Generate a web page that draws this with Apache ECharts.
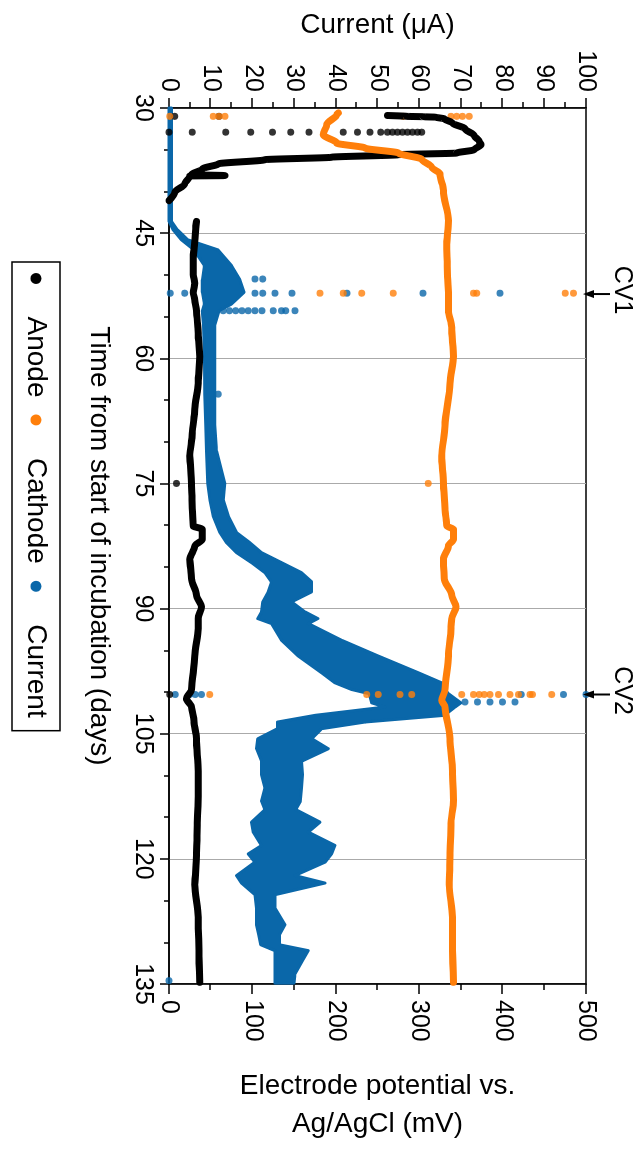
<!DOCTYPE html>
<html>
<head>
<meta charset="utf-8">
<script src="https://cdn.jsdelivr.net/npm/echarts@6/dist/echarts.min.js"></script>
<style>
  html, body { margin: 0; padding: 0; background: #fff; overflow: hidden; }
  /* chart is laid out landscape, then turned a quarter clockwise like the figure */
  #chart { position: absolute; left: 0; top: 0; width: 1151px; height: 638px;
           transform-origin: 0 0; transform: translateX(638px) rotate(90deg); }
</style>
</head>
<body>
<div id="chart"></div>
<script>
// anode potential (mV) against time (days); null where it falls below the axis
var anodeDays = [30.9, 31.0, 31.05, 31.1, 31.3, 31.8, 32.5, 33.3, 34.0, 34.4, 35.0, 35.4, 35.6, 35.9, 36.2,
                 36.7, 37.3, 38.0, 38.1, 38.15, 39.1, 40.1, 41.1, 41.5, 43.6, 44.5, 46, 48, 50, 51,
                 52.1, 53, 54.3, 57, 59.8, 63, 66.1, 69, 71.7, 75, 78, 80.1, 80.5, 81.7, 82.5,
                 84.1, 86.4, 88.4, 89.8, 91.2, 92.4, 95.7, 99.7, 100.8, 101.8, 103.5, 105.6, 109.5, 112.5, 116,
                 119.6, 123.1, 127, 131, 134.8];
var anodeMv = [262, 285, 305, 320, 330, 340, 355, 366, 372, 374, 366, 345, 275, 195, 115,
               59, 40, 27, 67, 25, 19, 7, 0, null, 33, 32, 31, 29, 29, 31,
               29, 31, 33, 35, 37, 35, 31, 28, 25, 27, 28, 29, 40, 40, 31,
               25, 27, 33, 39, 35, 35, 31, 27, 21, 27, 30, 33, 35, 35, 34,
               33, 31, 35, 36, 37];

// cathode potential (mV)
var cathodeDays = [30.6, 30.8, 32.0, 33.2, 34.2, 34.8, 35.4, 36.15, 37.1, 37.9, 39.9, 43.5, 46.6, 50.2, 52.1,
                   54.3, 56.3, 59.8, 63, 68.1, 71.7, 75, 78, 80.1, 80.5, 81.7, 82.5, 84.1, 86.4, 88.4,
                   89.8, 91.2, 92.4, 95.7, 99.7, 101, 101.8, 105.6, 109.5, 113, 116, 119.6, 123.1, 127, 131,
                   134.8];
var cathodeMv = [203, 201, 189, 185, 201, 235, 275, 303, 315, 325, 329, 335, 333, 334, 335,
                 335, 339, 341, 337, 331, 327, 329, 331, 333, 341, 341, 335, 329, 330, 339,
                 344, 339, 338, 335, 331, 327, 331, 337, 340, 341, 338, 337, 336, 340, 340,
                 341];

// current (uA): lower and upper edge of the noisy band
var currentDays = [30, 43.6, 44.6, 45.8, 47.0, 48.9, 50.6, 52.1, 53.5, 54.3, 56, 60, 64.3, 68, 71.1,
                   75.0, 77, 78.9, 80.9, 82.1, 83.3, 84.5, 85.7, 86.8, 88.0, 89.2, 90.4, 91.2, 91.8, 93.8,
                   95.7, 97.7, 98.9, 99.7, 100.2, 101.3, 101.8, 102.8, 103.6, 104.4, 105.6, 106.8, 108.3, 109.9, 111.5,
                   113.1, 114.1, 115.6, 116.8, 118.4, 119.4, 120.4, 122.0, 122.9, 124.3, 125.9, 127.9, 129.1, 130.3, 131.0,
                   132.2, 133.8, 134.9];
var currentLow = [0, 0, 1, 3, 6, 8.5, 8, 8, 8.5, 8, 8.3, 8.5, 8.6, 8.8, 9,
                  9.3, 9.8, 10.6, 12.2, 13.8, 16.2, 19.8, 23, 24.6, 23.8, 22.5, 22.2, 21.3, 24.6, 27,
                  31, 36.6, 39.8, 43.8, 48, 48.6, 51.8, 35, 26, 26, 21.3, 21, 22.2, 22.2, 23,
                  22.2, 23, 19.8, 20.2, 22.2, 19, 20.6, 16.2, 17.4, 20.6, 21, 21, 21.5, 22, 25.4,
                  25.4, 25.4, 25.4];
var currentHigh = [0.6, 0.6, 2, 4.5, 11.7, 15, 17, 18, 15, 12, 11, 11, 11, 11, 11.4,
                   13.4, 13, 14.2, 16.2, 19.4, 22.2, 27, 31.8, 34.2, 34.2, 29.4, 32.6, 35.7, 33.4, 41.4,
                   50.2, 59.8, 65.4, 66.2, 67, 70, 68.6, 66, 47, 36.6, 34.2, 38.2, 31.8, 32, 31.8,
                   31.5, 30.4, 36.2, 33.4, 39.8, 39, 37.4, 30.2, 37.4, 25.4, 25.4, 27.8, 26.5, 26.5, 33.4,
                   32, 30.2, 30];

// stray single readings
var anodeDotDays = [31.0, 31.0, 32.9, 32.9, 32.9, 32.9, 32.9, 32.9, 32.9, 32.9, 32.9, 32.9, 32.9,
                    32.9, 32.9, 32.9, 32.9, 32.9, 32.9, 32.9, 32.9, 75.0, 100.3];
var anodeDotMv = [7, 60, 0, 28, 68, 98, 124, 146, 168, 209, 226, 241, 254,
                  262, 268, 274, 280, 286, 292, 298, 303, 9, 1];
var cathodeDotDays = [31.0, 31.0, 31.0, 31.0, 31.0, 31.0, 31.0, 31.0, 31.0,
                      52.2, 52.2, 52.2, 52.2, 52.2, 52.2, 52.2, 52.2, 75.0,
                      100.3, 100.3, 100.3, 100.3, 100.3, 100.3, 100.3, 100.3, 100.3, 100.3, 100.3, 100.3,
                      100.3, 100.3, 100.3, 100.3];
var cathodeDotMv = [1, 53, 60, 67, 281, 338, 345, 352, 360,
                    181, 209, 231, 269, 365, 369, 475, 485, 311,
                    49, 237, 251, 277, 291, 351, 365, 372, 378, 385, 395, 409, 419, 433,
                    436, 459];
var currentDotDays = [50.5, 50.5, 52.2, 52.2, 52.2, 52.2, 52.2, 52.2, 52.2, 52.2, 52.2,
                      54.3, 54.3, 54.3, 54.3, 54.3, 54.3, 54.3, 54.3, 54.3, 54.3, 54.3, 64.3,
                      100.3, 100.3, 100.3, 100.3, 101.2, 101.2, 101.2, 101.2, 101.2, 100.3, 100.3, 100.3, 134.6];
var currentDotUa = [20.6, 22.5, 0.3, 3.8, 20.6, 22.5, 25.4, 29.5, 42.7, 60.9, 79.4,
                    13, 14.5, 16, 17.5, 19, 20.6, 22.3, 25, 27, 28, 30.2, 11.8,
                    1.5, 5, 6.3, 7.8, 71, 74, 77, 80, 83, 84.5, 94.6, 100, 0];

// cyclic voltammetry markers
var cvDays = [52.3, 100.3];
var cvLabels = ['CV1', 'CV2'];

var BLUE = '#0a67a9';
var ORANGE = '#ff7f0a';
var FONT = 'Liberation Sans, Arial, Helvetica, sans-serif';

function pairs(xs, ys) {
    return xs.map(function (x, i) { return [x, ys[i]]; });
}

var chart = echarts.init(document.getElementById('chart'));

var axisLine = { onZero: false, lineStyle: { color: '#000', width: 1.5 } };
var tickStyle = { color: '#000', width: 1.5 };

var option = {
    animation: false,
    textStyle: { fontFamily: FONT },
    grid: {
        left: 108, right: 156, top: 52, bottom: 169,
        show: true, borderColor: '#000', borderWidth: 1.5
    },
    legend: {
        left: 262, top: 578,
        padding: [10, 13, 10, 11],
        borderColor: '#000', borderWidth: 1.5,
        itemWidth: 66, itemHeight: 11, itemGap: 17,
        selectedMode: false,
        textStyle: { fontSize: 28, color: '#000', fontFamily: FONT },
        data: [
            { name: 'Anode', icon: 'circle' },
            { name: 'Cathode', icon: 'circle' },
            { name: 'Current', icon: 'circle' }
        ]
    },
    xAxis: {
        type: 'value', min: 30, max: 135, interval: 15, position: 'bottom',
        name: 'Time from start of incubation (days)',
        nameLocation: 'middle', nameGap: 56,
        nameTextStyle: { fontSize: 28, color: '#000' },
        axisLine: axisLine,
        axisTick: { length: 9, lineStyle: tickStyle },
        minorTick: { show: true, splitNumber: 3, length: 5, lineStyle: tickStyle },
        axisLabel: { fontSize: 25, color: '#000', margin: 14 },
        splitLine: { show: true, lineStyle: { color: '#aaa', width: 1 } }
    },
    yAxis: [{
        type: 'value', min: 0, max: 100, interval: 10, position: 'left',
        name: 'Current (μA)', nameLocation: 'middle', nameRotate: 90, nameGap: 64,
        nameTextStyle: { fontSize: 28, color: '#000' },
        axisLine: axisLine,
        axisTick: { length: 10, lineStyle: tickStyle },
        minorTick: { show: true, splitNumber: 2, length: 6, lineStyle: tickStyle },
        axisLabel: { fontSize: 25, color: '#000', margin: 16 },
        splitLine: { show: false }
    }, {
        type: 'value', min: 0, max: 500, interval: 100, position: 'right',
        name: 'Electrode potential vs.\nAg/AgCl (mV)', nameLocation: 'middle', nameRotate: 90, nameGap: 83,
        nameTextStyle: { fontSize: 28, color: '#000', lineHeight: 38 },
        axisLine: axisLine,
        axisTick: { length: 10, lineStyle: tickStyle },
        minorTick: { show: true, splitNumber: 2, length: 6, lineStyle: tickStyle },
        axisLabel: { fontSize: 25, color: '#000', margin: 16 },
        splitLine: { show: false }
    }],
    series: [{
        name: 'Current', type: 'custom', xAxisIndex: 0, yAxisIndex: 0,
        itemStyle: { color: BLUE },
        encode: { x: 0, y: [1, 2] },
        data: currentDays.map(function (d, i) { return [d, currentLow[i], currentHigh[i]]; }),
        renderItem: function (params, api) {
            if (params.dataIndex !== 0) return null;
            var lower = [], upper = [];
            for (var i = 0; i < currentDays.length; i++) {
                lower.push(api.coord([currentDays[i], currentLow[i]]));
                upper.push(api.coord([currentDays[i], currentHigh[i]]));
            }
            return {
                type: 'polygon',
                shape: { points: lower.concat(upper.reverse()) },
                style: { fill: BLUE, stroke: BLUE, lineWidth: 3, lineJoin: 'round' }
            };
        }
    }, {
        name: 'Current', type: 'scatter', xAxisIndex: 0, yAxisIndex: 0,
        symbolSize: 7, itemStyle: { color: BLUE },
        data: pairs(currentDotDays, currentDotUa)
    }, {
        name: 'Anode', type: 'line', xAxisIndex: 0, yAxisIndex: 1,
        symbol: 'none', showSymbol: false, smooth: 0.3, smoothMonotone: 'x',
        itemStyle: { color: '#000' },
        lineStyle: { color: '#000', width: 7, join: 'round', cap: 'round' },
        data: pairs(anodeDays, anodeMv)
    }, {
        name: 'Anode', type: 'scatter', xAxisIndex: 0, yAxisIndex: 1,
        symbolSize: 7, itemStyle: { color: '#000' },
        data: pairs(anodeDotDays, anodeDotMv)
    }, {
        name: 'Cathode', type: 'line', xAxisIndex: 0, yAxisIndex: 1,
        symbol: 'none', showSymbol: false, smooth: 0.3, smoothMonotone: 'x',
        itemStyle: { color: ORANGE },
        lineStyle: { color: ORANGE, width: 7, join: 'round', cap: 'round' },
        data: pairs(cathodeDays, cathodeMv)
    }, {
        name: 'Cathode', type: 'scatter', xAxisIndex: 0, yAxisIndex: 1,
        symbolSize: 7, itemStyle: { color: ORANGE },
        data: pairs(cathodeDotDays, cathodeDotMv)
    }]
};

chart.setOption(option);

// arrows for the CV scans, just above the plot frame
var plotTop = chart.convertToPixel({ yAxisIndex: 1 }, 500);
var cvGraphics = [];
cvDays.forEach(function (d, i) {
    var x = chart.convertToPixel({ xAxisIndex: 0 }, d);
    cvGraphics.push({ type: 'line', z: 100,
        shape: { x1: x, y1: plotTop - 24, x2: x, y2: plotTop - 7 },
        style: { stroke: '#000', lineWidth: 2 } });
    cvGraphics.push({ type: 'polygon', z: 100,
        shape: { points: [[x - 4, plotTop - 8], [x + 4, plotTop - 8], [x, plotTop + 3]] },
        style: { fill: '#000' } });
    cvGraphics.push({ type: 'text', z: 100, x: x - 4, y: plotTop - 36,
        style: { text: cvLabels[i], fontSize: 25, fill: '#000', fontFamily: FONT,
                 align: 'center', verticalAlign: 'middle' } });
});
chart.setOption({ graphic: cvGraphics });
</script>
</body>
</html>
